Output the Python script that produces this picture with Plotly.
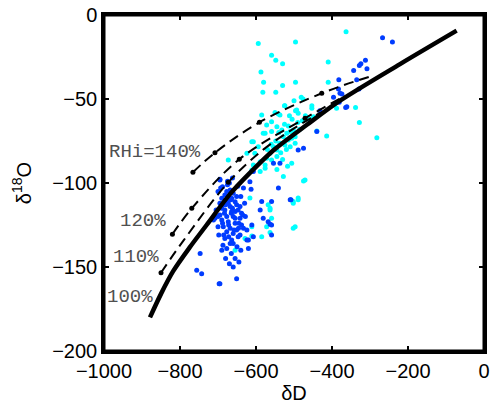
import plotly.graph_objects as go

# ---------------- data ----------------
# observations (cyan)
cyan_dD = [-594, -496, -363, -559, -548, -530, -410, -587, -580, -582, -548, -530, -496, -410,
           -500, -481, -476, -525, -453, -496, -550, -541, -338, -388, -282, -328, -414, -440,
           -524, -493, -453, -537, -572, -581, -559, -545, -532, -519, -510, -502, -528, -515,
           -506, -497, -537, -524, -510, -497, -554, -545, -563, -572, -589, -576, -559, -545,
           -607, -603, -624, -594, -611, -589, -576, -528, -506, -471, -489, -502, -563, -616,
           -572, -502, -540, -525, -515, -505, -490, -520, -535, -548, -560, -570, -500, -485,
           -478, -512, -470, -460, -475, -489, -502, -497, -568, -563, -559, -673, -611, -576,
           -607, -559, -585, -489, -449, -655, -629, -611, -585, -563, -611, -530, -517, -545]
cyan_d18O = [-17, -16, -10, -24, -27, -29, -28, -34, -40, -46, -46, -42, -40, -40,
             -51, -49, -50, -54, -54, -57, -58, -59, -55, -55.5, -73, -64, -72, -69,
             -54, -56.5, -55.5, -59.5, -65.5, -70.4, -69.4, -66.5, -68.4, -70.4, -69.4, -68.4, -72.4, -74.4,
             -73.4, -72.4, -76.3, -77.4, -78.4, -76.3, -78.4, -80.3, -82.3, -85.3, -87.3, -89.3, -86.3, -84.3,
             -75.4, -82.3, -82.3, -78.4, -92.2, -93.2, -91.2, -96.2, -88.3, -98.2, -110, -112, -115, -109,
             -126, -127, -70, -65, -66, -62, -64, -80, -82, -75, -77, -80, -70, -68,
             -63, -60, -60, -62, -98.8, -109, -111, -126, -113, -116, -121, -86.3, -75.4, -70.4,
             -89.3, -63.5, -59.5, -58.5, -60.5, -140, -133, -131.5, -132, -129.5, -126, -86, -90, -92]

# observations (blue)
blue_dD = [-267, -241, -312, -324, -328, -343, -308, -382, -335, -329, -383, -396, -374, -381, -364, -432,
           -379, -554, -537, -489, -475, -440, -361, -541, -510, -585, -559, -616, -607, -633, -581, -559,
           -611, -695, -508, -563, -613,
           -695, -688, -677, -668, -660, -682, -690, -677, -664, -651, -655, -673, -686, -668, -651, -642,
           -682, -664, -647, -638, -695, -677, -660, -642, -690, -673, -655, -638, -686, -668, -651, -633,
           -624, -677, -660, -642, -682, -664, -647, -624, -677, -660, -708, -712, -747, -756, -743, -697,
           -651, -620, -568, -589, -695, -620, -607, -559,
           -670, -665, -680, -655, -690, -672, -658, -645, -685, -668, -650, -695, -700, -662, -648, -640,
           -675, -687, -665, -640, -630, -628, -700, -705, -690, -655, -645, -670, -680, -660, -700, -683,
           -693, -675, -662, -655, -688, -672, -646, -635, -698, -666]
blue_d18O = [-13.5, -16, -27, -29, -30, -33, -32, -38.5, -38.5, -44, -44, -49, -47, -52, -55, -57,
             -46.6, -88.3, -88.3, -80.3, -79.3, -69.4, -54.6, -103, -110, -111, -111, -99.2, -93.2, -103, -121, -125,
             -125, -98.2, -110, -124.5, -103.7,
             -97.8, -102.2, -105.1, -104.1, -106.1, -107.1, -109.1, -110.1, -109.1, -108.1, -111.1, -112, -113, -114, -113, -114,
             -116, -117, -116, -118, -119, -120, -120, -121, -122, -123, -124, -125, -126, -127, -128, -127,
             -128, -129, -130, -131, -133, -134, -132, -134, -139, -136, -121, -122, -142, -152, -154, -160,
             -157, -139, -123, -116, -160, -134, -132, -131,
             -100, -118, -113, -117, -115, -125, -128, -124, -131, -136, -138, -112, -105, -97, -102, -108,
             -99, -137, -142, -140, -112, -120, -126, -116, -140, -145, -147, -148, -145, -150, -120, -118,
             -103, -101, -115, -121, -124, -132, -127, -119, -131, -110]

# model curves: RHi = 100 % (solid), 110 %, 120 %, 140 %
c100_dD = [-879, -850, -818, -775, -730, -668, -616, -554, -467, -379, -221, -72]
c100_d18O = [-180, -166, -152.5, -138.5, -125, -106.5, -94, -80.5, -65.5, -51, -29.2, -9.3]

c110_dD = [-850, -790, -673, -580, -500, -430]
c110_d18O = [-153.4, -134, -99.6, -80, -67.5, -58]
c110_dots_dD = [-850, -673]
c110_dots_d18O = [-153.4, -99.6]

c120_dD = [-820, -769, -644, -471, -365]
c120_d18O = [-130.5, -115.1, -85.9, -61.5, -48]
c120_dots_dD = [-820, -769, -644, -471]
c120_dots_d18O = [-130.5, -115.1, -85.9, -61.5]

c140_dD = [-766, -708, -591, -427, -298]
c140_d18O = [-93.6, -82.0, -63.9, -46.6, -36.5]
c140_dots_dD = [-766, -708, -591, -427]
c140_dots_d18O = [-93.6, -82.0, -63.9, -46.6]

label_text = ["RHi=140%", "120%", "110%", "100%"]
label_dD = [-992, -963, -982, -998]
label_d18O = [-81.5, -122.6, -144, -167.8]

x_ticks = [-1000, -800, -600, -400, -200, 0]
y_ticks = [-200, -150, -100, -50, 0]
x_range = [-1000, 0]
y_range = [-200, 0]

# ---------------- figure ----------------
fig = go.Figure()

fig.add_trace(go.Scatter(x=cyan_dD, y=cyan_d18O, mode="markers",
                         marker=dict(color="rgb(0,255,255)", size=5), showlegend=False))
fig.add_trace(go.Scatter(x=blue_dD, y=blue_d18O, mode="markers",
                         marker=dict(color="rgb(0,60,255)", size=5), showlegend=False))

for cx, cy, dx, dy in [(c110_dD, c110_d18O, c110_dots_dD, c110_dots_d18O),
                       (c120_dD, c120_d18O, c120_dots_dD, c120_dots_d18O),
                       (c140_dD, c140_d18O, c140_dots_dD, c140_dots_d18O)]:
    fig.add_trace(go.Scatter(x=cx, y=cy, mode="lines",
                             line=dict(color="black", width=2, dash="10px,6px", shape="spline"),
                             showlegend=False))
    fig.add_trace(go.Scatter(x=dx, y=dy, mode="markers",
                             marker=dict(color="black", size=5), showlegend=False))

fig.add_trace(go.Scatter(x=c100_dD, y=c100_d18O, mode="lines",
                         line=dict(color="black", width=4.5, shape="spline", smoothing=0.8),
                         showlegend=False))

# invisible trace on the mirrored (top/right) axes so their tick marks are drawn
fig.add_trace(go.Scatter(x=x_range, y=y_range, xaxis="x2", yaxis="y2", mode="markers",
                         marker=dict(opacity=0), hoverinfo="skip", showlegend=False))

for t, lx, ly in zip(label_text, label_dD, label_d18O):
    fig.add_annotation(x=lx, y=ly, text=t, showarrow=False, xanchor="left", yanchor="middle",
                       font=dict(family="Liberation Mono", size=19, color="#505050"))

axis_common = dict(showline=True, linecolor="black", linewidth=2.5,
                   ticks="inside", ticklen=5, tickwidth=1.5, tickcolor="black",
                   showgrid=False, zeroline=False, automargin=False,
                   tickfont=dict(family="Liberation Sans", size=20, color="black"))

fig.update_layout(
    xaxis=dict(range=x_range, tickvals=x_ticks, **axis_common,
               title=dict(text="δD", font=dict(family="Liberation Sans", size=20, color="black"), standoff=6)),
    yaxis=dict(range=y_range, tickvals=y_ticks, **axis_common,
               title=dict(text="δ<sup>18</sup>O", font=dict(family="Liberation Sans", size=20, color="black"), standoff=16)),
    xaxis2=dict(range=x_range, tickvals=x_ticks, overlaying="x", side="top", anchor="y",
                showticklabels=False, **axis_common),
    yaxis2=dict(range=y_range, tickvals=y_ticks, overlaying="y", side="right", anchor="x",
                showticklabels=False, **axis_common),
    width=490, height=407, margin=dict(l=104, r=6, t=15, b=56),
    plot_bgcolor="white", paper_bgcolor="white",
)

# frame around the plotting box
fig.add_shape(type="rect", xref="paper", yref="paper", x0=0, y0=0, x1=1, y1=1,
              line=dict(color="black", width=3), layer="above")

# remove the default page margin so the figure sits at the window origin
fig.write_html("out.html", config={"displayModeBar": False},
               post_script="document.body.style.margin='0';document.body.style.overflow='hidden';")
